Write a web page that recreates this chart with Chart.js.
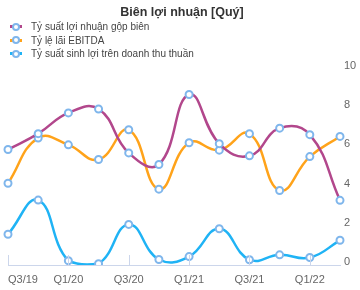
<!DOCTYPE html>
<html>
<head>
<meta charset="utf-8">
<script src="https://cdn.jsdelivr.net/npm/chart.js@4.4.0/dist/chart.umd.min.js"></script>
<style>
  body { margin: 0; background: #fff; }
  #wrap { position: relative; width: 360px; height: 290px; }
  #legend { position: absolute; left: 10px; top: 20px; font: 10px "Liberation Sans", Arial, sans-serif; color: #444; }
  .row { height: 13.5px; line-height: 13.5px; white-space: nowrap; }
  .mk { position: relative; display: inline-block; width: 12px; height: 13px; vertical-align: top; margin-right: 9px; }
  .bar { position: absolute; left: 0; top: 5px; width: 12px; height: 3px; }
  .dot { position: absolute; left: 2px; top: 2.5px; width: 4px; height: 4px; border: 2px solid #7fb6ec; border-radius: 50%; background: #fff; }
</style>
</head>
<body>
<div id="wrap">
  <canvas id="chart-bien"></canvas>
  <div id="legend"></div>
</div>
<script>
var quy = ["Q3/19", "Q4/19", "Q1/20", "Q2/20", "Q3/20", "Q4/20", "Q1/21", "Q2/21", "Q3/21", "Q4/21", "Q1/22", "Q2/22"];
var tenSeries = ["Tỷ suất lợi nhuận gộp biên", "Tỷ lệ lãi EBITDA", "Tỷ suất sinh lợi trên doanh thu thuần"];
var loiNhuanGop = [5.89, 6.70, 7.76, 7.96, 5.72, 5.13, 8.70, 6.19, 5.57, 6.98, 6.65, 3.30];
var laiEbitda = [4.17, 6.48, 6.13, 5.38, 6.90, 3.87, 6.24, 5.86, 6.70, 3.80, 5.53, 6.56];
var sinhLoi = [1.57, 3.31, 0.22, 0.07, 2.07, 0.28, 0.43, 1.85, 0.27, 0.52, 0.38, 1.26];
var mauSeries = ["#b2478c", "#ffa31a", "#1fb3f5"];
var yTicks = [0, 2, 4, 6, 8, 10];

function taoDataset(i, data) {
  return {
    label: tenSeries[i],
    data: data,
    borderColor: mauSeries[i],
    borderWidth: 2.5,
    tension: 0.45,
    pointRadius: 3.5,
    pointBorderWidth: 2,
    pointBorderColor: "#7fb6ec",
    pointBackgroundColor: "#fff",
    fill: false
  };
}

// legend html
var legend = document.getElementById("legend");
for (var i = 0; i < tenSeries.length; i++) {
  legend.innerHTML += '<div class="row"><span class="mk"><span class="bar" style="background:' + mauSeries[i] +
    '"></span><span class="dot"></span></span>' + tenSeries[i] + '</div>';
}

// vach nho tren truc x
var vachTruc = {
  id: "vachTruc",
  afterDraw: function (chart) {
    var ctx = chart.ctx;
    var x = chart.scales.x;
    var bottom = chart.chartArea.bottom;
    ctx.save();
    ctx.strokeStyle = "#ccd6eb";
    ctx.lineWidth = 1;
    for (var i = 0; i < quy.length; i += 2) {
      var px = Math.round(x.getPixelForValue(i)) + 0.5;
      ctx.beginPath();
      ctx.moveTo(px, bottom - 10);
      ctx.lineTo(px, bottom);
      ctx.stroke();
    }
    ctx.restore();
  }
};

var ctx1 = document.getElementById("chart-bien").getContext("2d");
var chart1 = new Chart(ctx1, {
  type: "line",
  data: {
    labels: quy,
    datasets: [taoDataset(0, loiNhuanGop), taoDataset(1, laiEbitda), taoDataset(2, sinhLoi)]
  },
  options: {
    responsive: true,
    maintainAspectRatio: false,
    animation: false,
    layout: { padding: { left: 4, right: 0, top: 0, bottom: 0 } },
    plugins: {
      legend: { display: false },
      tooltip: { enabled: false },
      title: {
        display: true,
        text: "Biên lợi nhuận [Quý]",
        color: "#333",
        font: { size: 12.5, weight: "bold", family: "'Liberation Sans', Arial, sans-serif" },
        padding: { top: 5, bottom: 49 }
      }
    },
    scales: {
      x: {
        grid: { display: false, drawTicks: false },
        border: { display: true, color: "#ccd6eb", width: 1 },
        afterFit: function (s) { s.height = 25; },
        ticks: {
          autoSkip: false,
          maxRotation: 0,
          align: "inner",
          padding: 8,
          color: "#666",
          font: { size: 11, family: "'Liberation Sans', Arial, sans-serif" },
          callback: function (v, i) { return i % 2 == 0 ? quy[i] : ""; }
        }
      },
      y: {
        position: "right",
        min: 0,
        max: 10,
        afterBuildTicks: function (s) { s.ticks = yTicks.map(function (v) { return { value: v }; }); },
        afterFit: function (s) { s.width = 20; },
        grid: { display: false, drawTicks: false },
        border: { display: false },
        ticks: {
          padding: 4,
          labelOffset: -3,
          color: "#666",
          font: { size: 11, family: "'Liberation Sans', Arial, sans-serif" }
        }
      }
    }
  },
  plugins: [vachTruc]
});
</script>
</body>
</html>
